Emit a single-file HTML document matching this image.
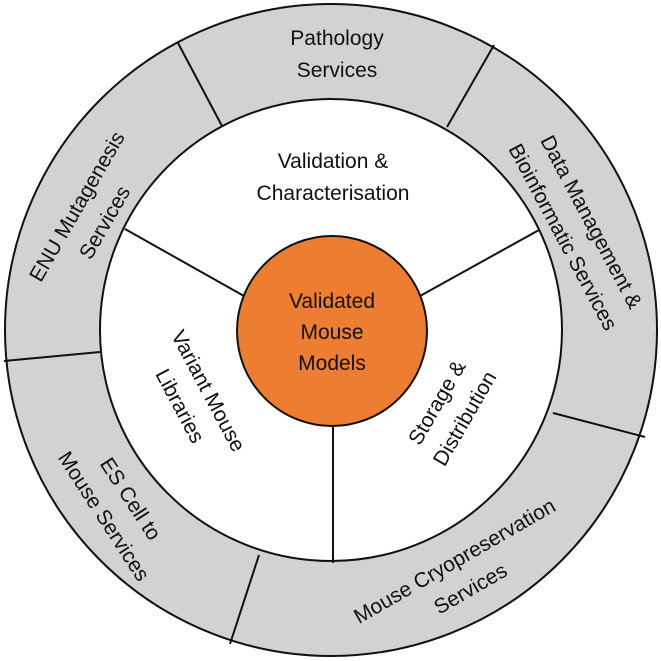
<!DOCTYPE html>
<html><head><meta charset="utf-8"><style>html,body{margin:0;padding:0;background:#fff}svg{display:block}</style></head>
<body>
<svg width="661" height="661" viewBox="0 0 661 661" xmlns="http://www.w3.org/2000/svg" font-family="Liberation Sans, sans-serif" font-size="21" fill="#111" text-anchor="middle">
<circle cx="331" cy="330" r="326" fill="#d3d2d2" stroke="#111" stroke-width="2"/>
<circle cx="331" cy="330" r="231" fill="#fff" stroke="#111" stroke-width="2"/>
<g stroke="#111" stroke-width="2">
<line x1="222" y1="126" x2="178" y2="43"/>
<line x1="447" y1="127" x2="494" y2="45"/>
<line x1="553" y1="413" x2="645" y2="437"/>
<line x1="259" y1="555" x2="230" y2="644"/>
<line x1="100" y1="352" x2="4" y2="361"/>
<line x1="244" y1="296" x2="125" y2="229"/>
<line x1="420" y1="296" x2="539" y2="230"/>
<line x1="333" y1="420" x2="333" y2="563"/>
</g>
<circle cx="332" cy="331" r="95" fill="#ed7d31" stroke="#111" stroke-width="2"/>
<text x="337" y="45">Pathology</text>
<text x="337" y="77">Services</text>
<text x="333" y="168">Validation &amp;</text>
<text x="333" y="200">Characterisation</text>
<text x="332" y="308">Validated</text>
<text x="332" y="339">Mouse</text>
<text x="332" y="370">Models</text>
<g transform="translate(195,398) rotate(62)"><text y="-8">Variant Mouse</text><text y="24">Libraries</text></g>
<g transform="translate(450,410) rotate(-60)"><text y="-8">Storage &amp;</text><text y="24">Distribution</text></g>
<g transform="translate(90,214) rotate(-60)"><text y="-8">ENU Mutagenesis</text><text y="24">Services</text></g>
<g transform="translate(578,229) rotate(62)"><text y="-8">Data Management &amp;</text><text y="24">Bioinformatic Services</text></g>
<g transform="translate(118,507) rotate(57)"><text y="-8">ES Cell to</text><text y="24">Mouse Services</text></g>
<g transform="translate(462,574) rotate(-30)"><text y="-8">Mouse Cryopreservation</text><text y="24">Services</text></g>
</svg>
</body></html>
